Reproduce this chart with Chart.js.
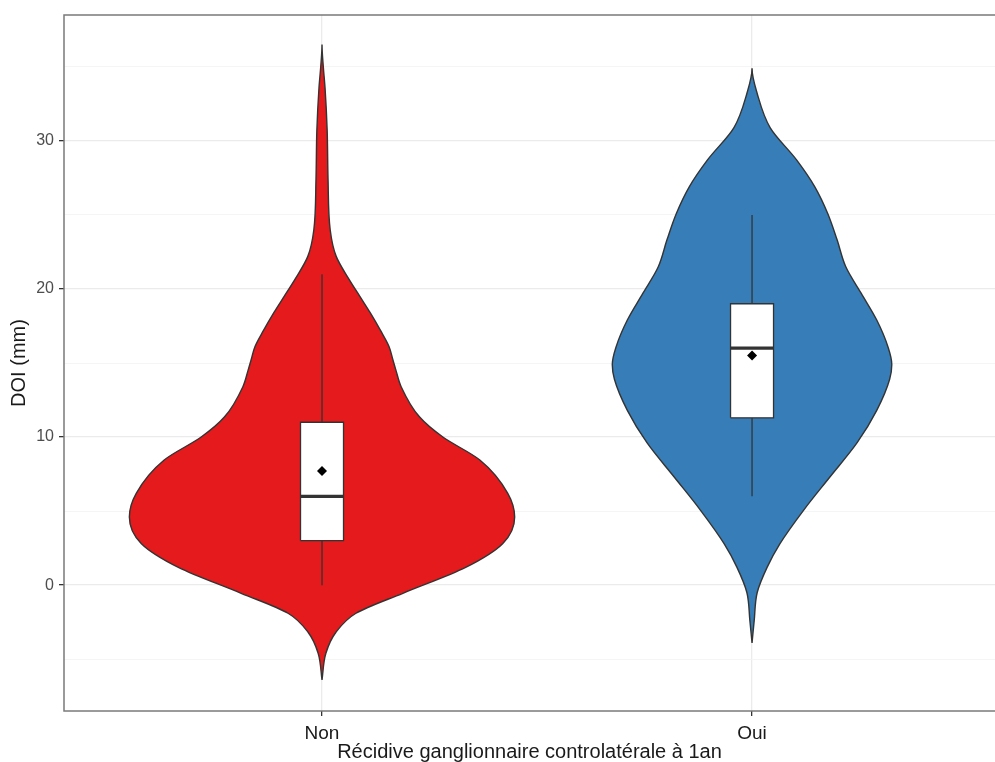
<!DOCTYPE html>
<html>
<head>
<meta charset="utf-8">
<title>DOI violin</title>
<script src="https://cdn.jsdelivr.net/npm/chart.js@4.4.1/dist/chart.umd.min.js"></script>
<style>
  html, body { margin: 0; padding: 0; background: #fff; }
</style>
</head>
<body>
<canvas id="chart" width="995" height="762"></canvas>
<script>
// categories on the x axis
const categories = ["Non", "Oui"];
const yTicks = [-5, 0, 5, 10, 15, 20, 25, 30, 35];

// violin profiles: DOI value (mm) and half width (x units)
const nonDoi   = [-6.4, -4.6, -3.2, -1.9, -0.55, 1.2, 2.8, 4.6, 6.2, 8.45, 10, 11.35, 13.4, 14.5, 15.2, 16.1, 17.2, 18.4, 19.5, 20.6, 22.2, 24, 27.4, 30.7, 33.6, 35, 36.5];
const nonWidth = [0, 0.009, 0.032, 0.079, 0.188, 0.334, 0.42, 0.448, 0.432, 0.367, 0.281, 0.227, 0.184, 0.172, 0.165, 0.156, 0.136, 0.112, 0.088, 0.064, 0.033, 0.019, 0.014, 0.012, 0.007, 0.003, 0];
const ouiDoi   = [-3.9, -2.4, -0.5, 1.2, 2.8, 5.1, 7.3, 9.6, 11.8, 13.9, 14.9, 16.1, 17.9, 19.7, 21.5, 23.3, 25.1, 26.9, 28.7, 30.9, 33.2, 34.9];
const ouiWidth = [0, 0.005, 0.012, 0.035, 0.065, 0.121, 0.181, 0.244, 0.29, 0.32, 0.325, 0.316, 0.29, 0.254, 0.218, 0.198, 0.176, 0.146, 0.104, 0.042, 0.012, 0];

// boxplot: [min, q1, median, q3, max] and means
const boxStats = [[0, 3, 6, 11, 21], [6, 11.3, 16, 19, 25]];
const means = [7.7, 15.5];

const fills = ["#E41A1C", "#377EB8"];
const BOX_HALF = 0.05;
const INK = "#333333";

function violinPath(center, ys, ws) {
  const left = ys.map((y, i) => ({ x: center - ws[i], y: y }));
  const right = [];
  for (let i = ys.length - 1; i >= 0; i--) right.push({ x: center + ws[i], y: ys[i] });
  return left.concat(right);
}

const datasets = [];
const profiles = [[nonDoi, nonWidth], [ouiDoi, ouiWidth]];

profiles.forEach((p, i) => {
  const c = i + 1;
  const s = boxStats[i];
  datasets.push({
    label: categories[i],
    data: violinPath(c, p[0], p[1]),
    indexAxis: "y",
    cubicInterpolationMode: "monotone",
    borderColor: INK, borderWidth: 1.4,
    backgroundColor: fills[i],
    fill: "shape", pointRadius: 0, order: 5
  });
  datasets.push({
    data: [{ x: c, y: s[0] }, { x: c, y: s[4] }],
    borderColor: INK, borderWidth: 1.3, pointRadius: 0, fill: false, order: 4
  });
  datasets.push({
    data: [
      { x: c - BOX_HALF, y: s[1] }, { x: c - BOX_HALF, y: s[3] },
      { x: c + BOX_HALF, y: s[3] }, { x: c + BOX_HALF, y: s[1] },
      { x: c - BOX_HALF, y: s[1] }
    ],
    borderColor: INK, borderWidth: 1.3, backgroundColor: "#ffffff",
    fill: "shape", tension: 0, pointRadius: 0, order: 3
  });
  datasets.push({
    data: [{ x: c - BOX_HALF, y: s[2] }, { x: c + BOX_HALF, y: s[2] }],
    borderColor: INK, borderWidth: 3.2, pointRadius: 0, fill: false, order: 2
  });
});

datasets.push({
  data: means.map((m, i) => ({ x: i + 1, y: m })),
  showLine: false, pointStyle: "rectRot", pointRadius: 5,
  pointBackgroundColor: "#000", pointBorderWidth: 0, order: 1
});

const frame = {
  id: "frame",
  afterDraw(chart) {
    const { ctx, chartArea: a } = chart;
    ctx.save();
    ctx.strokeStyle = "#7a7a7a";
    ctx.lineWidth = 1.5;
    ctx.strokeRect(a.left, a.top, a.right - a.left + 20, a.bottom - a.top);
    ctx.restore();
  }
};

const isMajor = c => c.tick && c.tick.value % 10 === 0;

Chart.defaults.font.family = "'Liberation Sans', Arial, sans-serif";

new Chart(document.getElementById("chart"), {
  type: "line",
  data: { datasets: datasets },
  options: {
    responsive: false,
    animation: false,
    layout: { autoPadding: false, padding: { top: 15, right: 0, left: 0, bottom: 0 } },
    plugins: { legend: { display: false }, tooltip: { enabled: false } },
    scales: {
      x: {
        type: "linear", min: 0.4, max: 2.565,
        afterBuildTicks: s => { s.ticks = [1, 2].map(v => ({ value: v })); },
        afterFit: s => { s.height = 51; },
        ticks: {
          callback: v => categories[v - 1],
          color: "#1a1a1a", font: { size: 19 }, padding: 6, maxRotation: 0
        },
        grid: { color: "#ebebeb", lineWidth: 1.3, tickColor: INK, tickLength: 5 },
        border: { display: false },
        title: {
          display: true, text: "Récidive ganglionnaire controlatérale à 1an",
          color: "#1a1a1a", font: { size: 20, lineHeight: 1 }, padding: { top: 0, bottom: 0 }
        }
      },
      y: {
        type: "linear", min: -8.5, max: 38.5,
        afterBuildTicks: s => { s.ticks = yTicks.map(v => ({ value: v })); },
        afterFit: s => { s.width = 64; },
        ticks: {
          callback: v => (v % 10 === 0 ? String(v) : ""),
          color: "#4d4d4d", font: { size: 16 }, padding: 5
        },
        grid: {
          color: c => (isMajor(c) ? "#ebebeb" : "#f2f2f2"),
          lineWidth: c => (isMajor(c) ? 1.3 : 0.8),
          tickColor: c => (isMajor(c) ? INK : "rgba(0,0,0,0)"),
          tickLength: 5
        },
        border: { display: false },
        title: {
          display: true, text: "DOI (mm)",
          color: "#1a1a1a", font: { size: 20, lineHeight: 1.2 }, padding: { top: 7, bottom: 0 }
        }
      }
    }
  },
  plugins: [frame]
});
</script>
</body>
</html>
